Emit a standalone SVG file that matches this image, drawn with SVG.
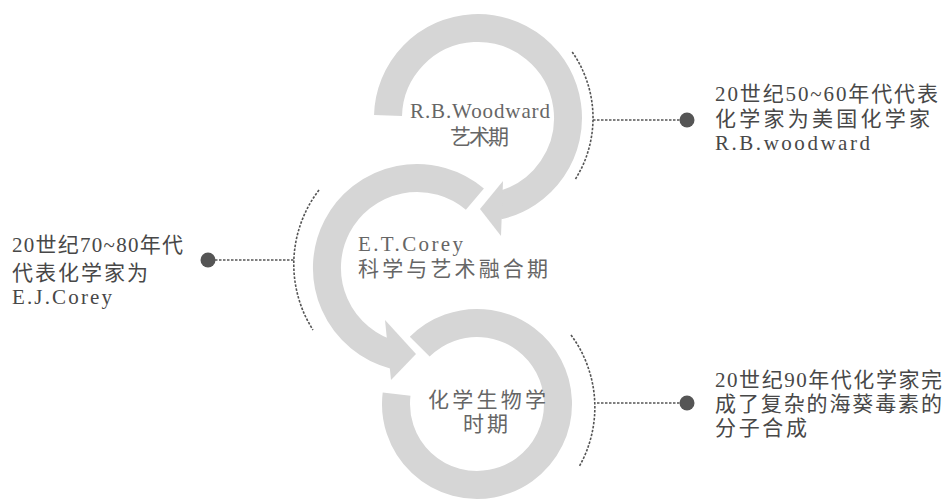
<svg xmlns="http://www.w3.org/2000/svg" width="949" height="503" viewBox="0 0 949 503">
<style>
.ring{fill:none;stroke:#d6d6d6;stroke-width:28;stroke-linecap:butt}
.head{fill:#d6d6d6}
.dash{fill:none;stroke:#555;stroke-width:1.6;stroke-dasharray:2.5 1.5}
.dot{fill:#555}
.side{font-family:"Liberation Serif","Noto Sans CJK SC",serif;font-size:21px;fill:#484848}
.mid{font-family:"Liberation Serif","Noto Sans CJK SC",serif;font-size:21px;fill:#666}
</style>
<rect width="949" height="503" fill="#fff"/>
<g id="stage1">
<path class="ring" d="M388.03 115.49 A90 90 0 1 1 498.25 205.69"/>
<polygon class="head" points="503,181 480,209 501,236"/>
<text class="mid" x="410" y="118" textLength="140" lengthAdjust="spacing">R.B.Woodward</text>
<text class="mid" x="450" y="144" textLength="59" lengthAdjust="spacing">艺术期</text>
</g>
<g id="stage2">
<path class="ring" d="M474.9 199.1 A90 90 0 1 0 393.7 354.9"/>
<polygon class="head" points="385,320 416,354 391,380"/>
<text class="mid" x="358" y="251" textLength="105" lengthAdjust="spacing">E.T.Corey</text>
<text class="mid" x="358" y="276" textLength="190" lengthAdjust="spacing">科学与艺术融合期</text>
</g>
<g id="stage3">
<path class="ring" d="M419.7 346.7 A81 81 0 1 1 396.6 394.1"/>
<text class="mid" x="428" y="407" textLength="118" lengthAdjust="spacing">化学生物学</text>
<text class="mid" x="463" y="431" textLength="45" lengthAdjust="spacing">时期</text>
</g>
<g id="note1">
<circle class="dot" cx="687" cy="120" r="7.5"/>
<text class="side" x="715" y="101" textLength="223" lengthAdjust="spacing">20世纪50~60年代代表</text>
<text class="side" x="715" y="126" textLength="215" lengthAdjust="spacing">化学家为美国化学家</text>
<text class="side" x="715" y="150" textLength="155" lengthAdjust="spacing">R.B.woodward</text>
</g>
<g id="note2">
<circle class="dot" cx="208" cy="260" r="7.5"/>
<text class="side" x="12" y="252" textLength="171" lengthAdjust="spacing">20世纪70~80年代</text>
<text class="side" x="12" y="280" textLength="136" lengthAdjust="spacing">代表化学家为</text>
<text class="side" x="12" y="304" textLength="100" lengthAdjust="spacing">E.J.Corey</text>
</g>
<g id="note3">
<circle class="dot" cx="687" cy="403" r="7.5"/>
<text class="side" x="715" y="387" textLength="227" lengthAdjust="spacing">20世纪90年代化学家完</text>
<text class="side" x="715" y="411" textLength="227" lengthAdjust="spacing">成了复杂的海葵毒素的</text>
<text class="side" x="715" y="435" textLength="92" lengthAdjust="spacing">分子合成</text>
</g>
<g id="connectors">
<path class="dash" d="M572.2 52 A115 115 0 0 1 575.5 179"/>
<path class="dash" d="M593 120 H680"/>
<path class="dash" d="M319 190 A122 122 0 0 0 313 330"/>
<path class="dash" d="M215 260 H295"/>
<path class="dash" d="M571 335 A121 121 0 0 1 579 467"/>
<path class="dash" d="M597 403 H680"/>
</g>
</svg>
